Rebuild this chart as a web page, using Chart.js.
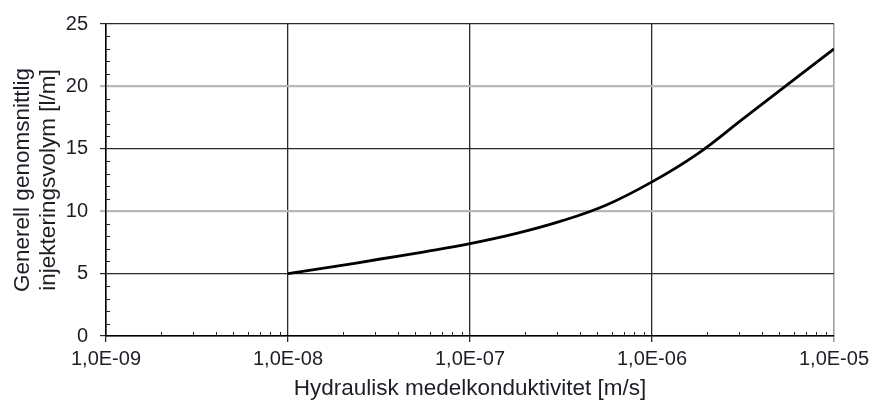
<!DOCTYPE html>
<html>
<head>
<meta charset="utf-8">
<script src="https://cdn.jsdelivr.net/npm/chart.js@4/dist/chart.umd.min.js"></script>
<style>
  html, body { margin: 0; padding: 0; background: #ffffff; }
  #wrap { width: 874px; height: 403px; position: relative; }
</style>
</head>
<body>
<div id="wrap"><canvas id="c" width="874" height="403"></canvas></div>
<script>
// Data (quarter-decade steps)
const conductivity = [1e-8, 1.78e-8, 3.16e-8, 5.62e-8, 1e-7, 1.78e-7, 3.16e-7, 5.62e-7, 1e-6, 1.78e-6, 3.16e-6, 5.62e-6, 1e-5];
const volume = [5.0, 5.55, 6.15, 6.75, 7.4, 8.2, 9.2, 10.5, 12.35, 14.6, 17.4, 20.2, 23.0];
const xTickValues = [1e-9, 1e-8, 1e-7, 1e-6, 1e-5];
const xTickLabels = ['1,0E-09', '1,0E-08', '1,0E-07', '1,0E-06', '1,0E-05'];
const yTickValues = [0, 5, 10, 15, 20, 25];
const xTitle = 'Hydraulisk medelkonduktivitet [m/s]';
const yTitle = ['Generell genomsnittlig', 'injekteringsvolym [l/m]'];

const FONT = "'Liberation Sans', Arial, sans-serif";
const TEXT = '#1c1f26';

const minorTicks = {
  id: 'minorTicks',
  afterDatasetsDraw(chart) {
    const ctx = chart.ctx;
    const xs = chart.scales.x, ys = chart.scales.y;
    const area = chart.chartArea;
    ctx.save();
    ctx.strokeStyle = '#222';
    ctx.lineWidth = 1;
    ctx.beginPath();
    for (let v = 1; v < 25; v++) {
      if (v % 5 === 0) continue;
      const py = Math.round(ys.getPixelForValue(v)) + 0.5;
      ctx.moveTo(area.left, py);
      ctx.lineTo(area.left + 4, py);
    }
    for (let d = -9; d < -5; d++) {
      for (let k = 2; k <= 9; k++) {
        const px = Math.round(xs.getPixelForValue(k * Math.pow(10, d))) + 0.5;
        ctx.moveTo(px, area.bottom);
        ctx.lineTo(px, area.bottom - 4);
      }
    }
    ctx.stroke();
    ctx.restore();
  }
};

new Chart(document.getElementById('c'), {
  type: 'line',
  data: {
    datasets: [{
      data: conductivity.map((x, i) => ({ x: x, y: volume[i] })),
      borderColor: '#000000',
      borderWidth: 2.8,
      pointRadius: 0,
      fill: false,
      tension: 0.4
    }]
  },
  options: {
    responsive: false,
    animation: false,
    devicePixelRatio: 1,
    layout: { padding: { top: 20, right: 37, left: 0, bottom: 0 } },
    plugins: { legend: { display: false }, tooltip: { enabled: false } },
    scales: {
      x: {
        type: 'logarithmic',
        min: 1e-9,
        max: 1e-5,
        afterFit(s) { s.height = 67; },
        afterBuildTicks(s) { s.ticks = xTickValues.map(v => ({ value: v })); },
        ticks: {
          autoSkip: false,
          maxRotation: 0,
          padding: 5,
          color: TEXT,
          font: { family: FONT, size: 20 },
          callback(value) {
            const i = xTickValues.findIndex(t => Math.abs(Math.log10(t) - Math.log10(value)) < 1e-6);
            return i >= 0 ? xTickLabels[i] : '';
          }
        },
        grid: {
          color(c) { return (c.tick && c.tick.value >= 1e-5 * 0.999) ? '#a0a0a0' : '#2a2a2a'; },
          lineWidth(c) { return (c.tick && c.tick.value >= 1e-5 * 0.999) ? 1.6 : 1.3; },
          tickLength: 6
        },
        border: { color: '#000', width: 1.5 },
        title: {
          display: true,
          text: xTitle,
          color: TEXT,
          font: { family: FONT, size: 22.5, weight: 'normal', lineHeight: 1.16 },
          padding: { top: 0, bottom: 1 }
        }
      },
      y: {
        min: 0,
        max: 25,
        afterFit(s) { s.width = 106; },
        afterBuildTicks(s) { s.ticks = yTickValues.map(v => ({ value: v })); },
        ticks: {
          padding: 12,
          color: TEXT,
          font: { family: FONT, size: 20 }
        },
        grid: {
          color(c) { const v = c.tick ? c.tick.value : 0; return (v === 10 || v === 20) ? '#b8b8b8' : '#2a2a2a'; },
          lineWidth(c) { const v = c.tick ? c.tick.value : 0; return (v === 10 || v === 20) ? 2.2 : 1.2; },
          tickLength: 6
        },
        border: { color: '#000', width: 1.5 },
        title: {
          display: true,
          text: yTitle,
          color: TEXT,
          font: { family: FONT, size: 22.5, weight: 'normal', lineHeight: 1.16 },
          padding: { top: 9.5, bottom: 0 }
        }
      }
    }
  },
  plugins: [minorTicks]
});
</script>
</body>
</html>
